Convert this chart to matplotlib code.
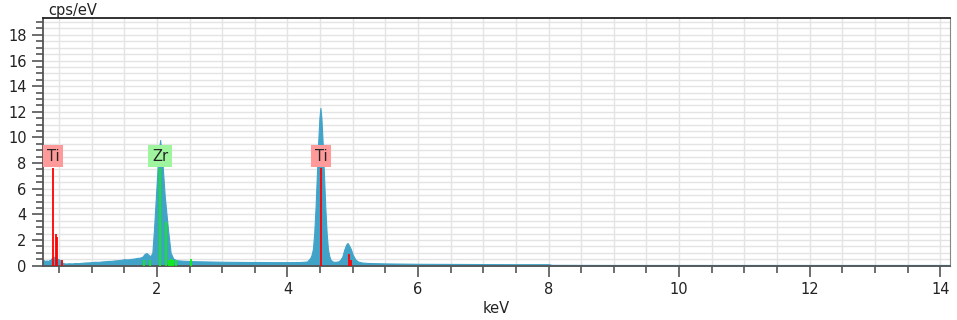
import matplotlib
matplotlib.use("Agg")
import matplotlib.pyplot as plt
from matplotlib.ticker import MultipleLocator

# spectrum (keV, cps/eV)
energy_kev = [0.25, 0.27, 0.29, 0.31, 0.33, 0.35, 0.37, 0.39, 0.41, 0.43, 0.45, 0.47, 0.49, 0.51,
              0.53, 0.56, 0.60, 0.65, 0.70, 0.75, 0.80, 0.85, 0.90, 0.95, 1.00, 1.05, 1.10, 1.15,
              1.20, 1.25, 1.30, 1.35, 1.40, 1.45, 1.50, 1.55, 1.60, 1.65, 1.70, 1.74, 1.78, 1.81,
              1.84, 1.87, 1.90, 1.93, 1.955, 1.985, 2.015, 2.035, 2.05, 2.065, 2.085, 2.12, 2.17,
              2.21, 2.25, 2.30, 2.40, 2.50, 2.60, 2.80, 3.00, 3.20, 3.40, 3.60, 3.80, 4.00, 4.20,
              4.30, 4.35, 4.37, 4.39, 4.41, 4.43, 4.45, 4.47, 4.49, 4.505, 4.52, 4.54, 4.56,
              4.58, 4.60, 4.62, 4.64, 4.66, 4.70, 4.74, 4.78, 4.81, 4.84, 4.87, 4.90, 4.92,
              4.94, 4.97, 5.00, 5.04, 5.08, 5.14, 5.25, 5.50, 6.00, 6.50, 7.00, 7.50, 8.00,
              8.05, 9.00, 10.00, 12.00, 14.15]
cps = [0.38, 0.42, 0.35, 0.40, 0.36, 0.42, 0.45, 0.60, 0.48, 0.70, 0.62, 0.55, 0.50, 0.45,
       0.30, 0.20, 0.16, 0.18, 0.17, 0.20, 0.19, 0.22, 0.24, 0.25, 0.27, 0.30, 0.29, 0.32,
       0.34, 0.36, 0.37, 0.40, 0.42, 0.45, 0.50, 0.48, 0.52, 0.55, 0.60, 0.62, 0.70, 0.90,
       0.98, 0.85, 0.72, 1.00, 2.80, 5.40, 8.00, 9.20, 9.80, 9.00, 8.00, 5.40, 2.80,
       1.00, 0.55, 0.42, 0.38, 0.36, 0.34, 0.32, 0.30, 0.29, 0.28, 0.28, 0.27, 0.27, 0.28,
       0.32, 0.60, 0.85, 1.30, 2.55, 4.50, 7.00, 9.55, 11.55, 12.30, 11.50, 9.50, 7.00,
       4.50, 2.55, 1.30, 0.75, 0.45, 0.30, 0.30, 0.33, 0.45, 0.70, 1.25, 1.65, 1.77,
       1.60, 1.30, 0.85, 0.48, 0.32, 0.24, 0.20, 0.17, 0.14, 0.13, 0.12, 0.11, 0.11,
       0.06, 0.05, 0.05, 0.05, 0.05]

# element marker lines
ti_lines_kev = [0.415, 0.452, 0.465, 0.55, 4.515, 4.944, 4.975]
ti_lines_h = [7.6, 2.5, 2.2, 0.45, 7.6, 0.91, 0.45]
zr_lines_kev = [1.805, 1.887, 2.05, 2.14, 2.19, 2.22, 2.25, 2.30, 2.515]
zr_lines_h = [0.4, 0.4, 7.6, 3.4, 0.45, 0.5, 0.45, 0.4, 0.5]

labels = ["Ti", "Zr", "Ti"]
label_kev = [0.415, 2.05, 4.515]
label_colors = ["#ff9a9a", "#9ef59e", "#ff9a9a"]

fig = plt.figure(figsize=(9.57, 3.2), dpi=100)
ax = fig.add_axes([0.0446, 0.170, 0.9481, 0.773])

ax.fill_between(energy_kev, 0, cps, color="#42a3c8", lw=0.8, edgecolor="#42a3c8", zorder=2)
ax.vlines(ti_lines_kev, 0, ti_lines_h, color="#ff0000", lw=1.3, zorder=3)
ax.vlines(zr_lines_kev, 0, zr_lines_h, color="#11ee11", lw=1.3, zorder=3)

for lab, x, col in zip(labels, label_kev, label_colors):
    ax.text(x, 8.55, lab, ha="center", va="center", fontsize=10.5, color="#222",
            bbox=dict(boxstyle="square,pad=0.25", fc=col, ec="none"), zorder=4)

ax.set_xlim(0.25, 14.15)
ax.set_ylim(0, 19.3)
ax.xaxis.set_major_locator(MultipleLocator(2))
ax.xaxis.set_minor_locator(MultipleLocator(0.5))
ax.yaxis.set_major_locator(MultipleLocator(2))
ax.yaxis.set_minor_locator(MultipleLocator(0.5))
ax.grid(which="both", color="#e4e4e4", lw=1.0, zorder=0)
ax.set_axisbelow(True)

ax.tick_params(which="major", length=8, width=1.2, color="#555", labelsize=10.5, labelcolor="#222")
ax.tick_params(which="minor", length=5, width=1.2, color="#555")
for sp in ("left", "bottom"):
    ax.spines[sp].set_color("#555"); ax.spines[sp].set_linewidth(1.3)
ax.spines["top"].set_color("#222"); ax.spines["top"].set_linewidth(1.3)
ax.spines["right"].set_color("#888")

ax.set_xlabel("keV", fontsize=10.5, color="#222", labelpad=3)
fig.text(0.050, 0.968, "cps/eV", fontsize=10.5, color="#222", va="center", ha="left")

fig.savefig("out.png", dpi=100)
